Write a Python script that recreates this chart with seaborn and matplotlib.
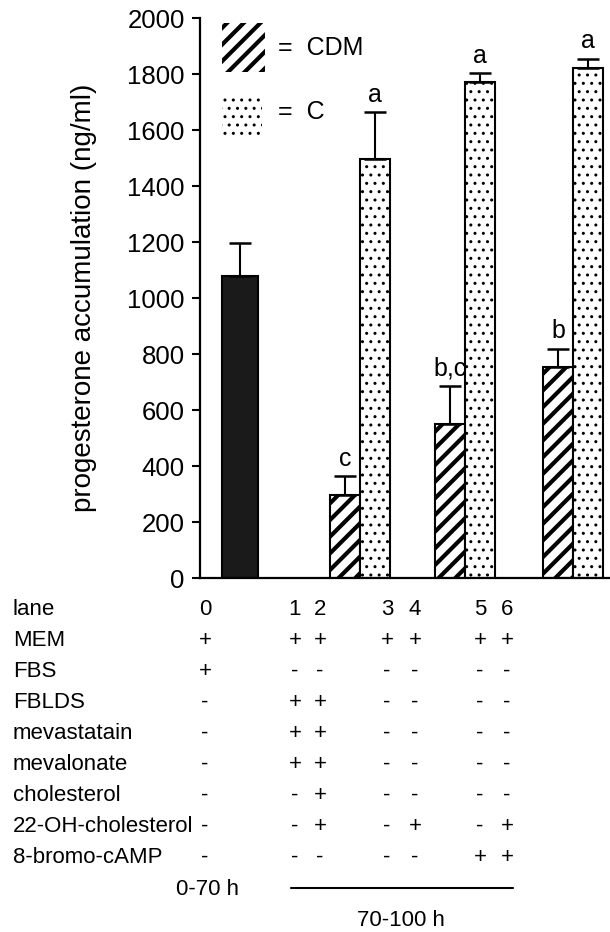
import matplotlib.pyplot as plt
import numpy as np
import pandas as pd
import seaborn as sns
from matplotlib.lines import Line2D
from matplotlib.patches import Rectangle

# data
lanes = [0, 1, 2, 3, 4, 5, 6]
kind = ["FBS", "CDM", "C", "CDM", "C", "CDM", "C"]
progesterone = [1080, 298, 1495, 550, 1770, 755, 1822]
sem = [118, 65, 168, 137, 32, 64, 32]
letters = ["", "c", "a", "b,c", "a", "b", "a"]

row_names = ["lane", "MEM", "FBS", "FBLDS", "mevastatain", "mevalonate",
             "cholesterol", "22-OH-cholesterol", "8-bromo-cAMP"]
row_marks = [
    ["0", "1", "2", "3", "4", "5", "6"],
    ["+", "+", "+", "+", "+", "+", "+"],
    ["+", "-", "-", "-", "-", "-", "-"],
    ["-", "+", "+", "-", "-", "-", "-"],
    ["-", "+", "+", "-", "-", "-", "-"],
    ["-", "+", "+", "-", "-", "-", "-"],
    ["-", "-", "+", "-", "-", "-", "-"],
    ["-", "-", "+", "-", "+", "-", "+"],
    ["-", "-", "-", "-", "-", "+", "+"],
]

# layout
W, H = 610, 932
bar_pos = [0, 3.5, 4.5, 7.0, 8.0, 10.6, 11.6]
col_px = [205, 295, 320, 387, 415, 480, 507]
STRIPE = "//"
DOTS = ".."
STRIPE_LW = 3.0
DOT_LW = 1.0


def fx(px):
    return px / W


def fy(py):
    return 1 - py / H


sns.set_style("ticks")
plt.rcParams["font.family"] = ["Liberation Sans", "DejaVu Sans"]
plt.rcParams["text.color"] = "black"
plt.rcParams["axes.labelcolor"] = "black"

fig = plt.figure(figsize=(W / 100, H / 100), dpi=100)
ax = fig.add_axes([fx(200), fy(578), 410 / W, 560 / H])

df = pd.DataFrame({"pos": bar_pos, "value": progesterone})
sns.barplot(data=df, x="pos", y="value", native_scale=True, width=1.0,
            color="white", edgecolor="black", linewidth=1.5,
            errorbar=None, ax=ax)

bars = sorted(ax.patches, key=lambda p: p.get_x())
for p, k in zip(bars, kind):
    p.set_edgecolor("black")
    if k == "FBS":
        p.set_facecolor("#1a1a1a")
        p.set_x(p.get_x() + p.get_width() / 2 - 0.585)
        p.set_width(1.17)
    elif k == "CDM":
        p.set_facecolor("white")
        p.set_hatch(STRIPE)
        if hasattr(p, "set_hatch_linewidth"):
            p.set_hatch_linewidth(STRIPE_LW)
    else:
        p.set_facecolor("white")
        p.set_hatch(DOTS)
        if hasattr(p, "set_hatch_linewidth"):
            p.set_hatch_linewidth(DOT_LW)

ax.errorbar(bar_pos, progesterone, yerr=[np.zeros(len(sem)), sem],
            fmt="none", ecolor="black", elinewidth=1.5, capsize=8,
            capthick=1.8, zorder=1)

for x, v, e, t in zip(bar_pos, progesterone, sem, letters):
    if t:
        ax.text(x, v + e + 20, t, ha="center", va="bottom", fontsize=18)

ax.set_xlim(-1.333, 12.333)
ax.set_ylim(0, 2000)
ax.set_yticks(range(0, 2001, 200))
ax.set_xticks([])
ax.set_xlabel("")
ax.set_ylabel("progesterone accumulation (ng/ml)", fontsize=20)
ax.yaxis.set_label_coords(-0.25, 0.5)
ax.tick_params(axis="y", length=6, width=1.5, pad=5, labelsize=18.5,
               colors="black")
for s in ["top", "right"]:
    ax.spines[s].set_visible(False)
for s in ["left", "bottom"]:
    ax.spines[s].set_linewidth(1.6)
    ax.spines[s].set_color("black")

# legend drawn by hand
leg1 = Rectangle((0.054, 0.904), 0.105, 0.0875, transform=ax.transAxes,
                 facecolor="white", edgecolor="black", linewidth=0,
                 hatch=STRIPE)
leg2 = Rectangle((0.054, 0.791), 0.098, 0.068, transform=ax.transAxes,
                 facecolor="white", edgecolor="black", linewidth=0,
                 hatch=DOTS)
for r, lw in [(leg1, STRIPE_LW), (leg2, DOT_LW)]:
    if hasattr(r, "set_hatch_linewidth"):
        r.set_hatch_linewidth(lw)
    ax.add_patch(r)
ax.text(0.19, 0.946, "=  CDM", transform=ax.transAxes, fontsize=18,
        va="center")
ax.text(0.19, 0.832, "=  C", transform=ax.transAxes, fontsize=18,
        va="center")

# treatment table under the chart
for i, (name, marks) in enumerate(zip(row_names, row_marks)):
    y = fy(607 + i * 31)
    fig.text(fx(13), y, name, fontsize=16, va="center_baseline")
    for cx, m in zip(col_px, marks):
        fig.text(fx(cx), y, m, fontsize=16, ha="center",
                 va="center_baseline")

fig.text(fx(208), fy(887), "0-70 h", fontsize=16, ha="center",
         va="center_baseline")
fig.add_artist(Line2D([fx(291), fx(513)], [fy(888), fy(888)],
                      color="black", linewidth=1.5))
fig.text(fx(401), fy(918), "70-100 h", fontsize=16, ha="center",
         va="center_baseline")

fig.savefig("out.png", dpi=100)
